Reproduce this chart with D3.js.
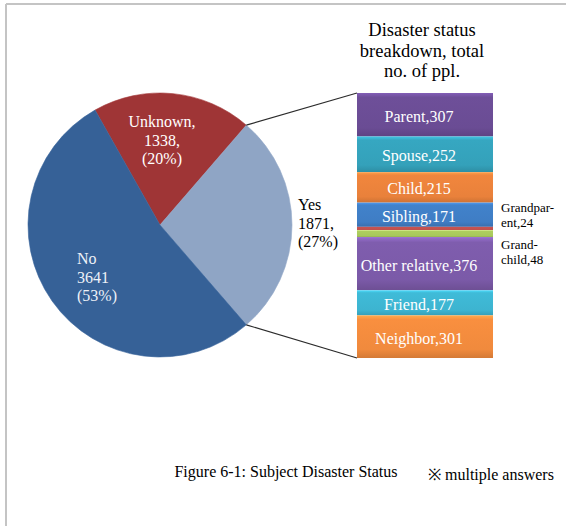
<!DOCTYPE html>
<html>
<head>
<meta charset="utf-8">
<script src="https://cdn.jsdelivr.net/npm/d3@7"></script>
<style>
  html, body { margin: 0; padding: 0; background: #ffffff; }
  svg { display: block; }
  text { font-family: "Liberation Serif", "DejaVu Serif", serif; }
</style>
</head>
<body>
<svg id="chart" width="566" height="526"></svg>
<script>
// Pie: disaster status of subjects
const pieLabels = ["Unknown", "Yes", "No"];
const pieValues = [1338, 1871, 3641];
const piePercents = ["20%", "27%", "53%"];
const pieColors = ["#b43c3d", "#a2bbdf", "#3d6eab"];

// Bar: breakdown of the "Yes" slice (multiple answers)
const barLabels = ["Parent", "Spouse", "Child", "Sibling", "Grandparent", "Grandchild", "Other relative", "Friend", "Neighbor"];
const barValues = [307, 252, 215, 171, 24, 48, 376, 177, 301];
const barColors = ["#6a4c94", "#34a1ba", "#e9813b", "#3f7dc4", "#c0504d", "#a8c85c", "#7b5aa8", "#3db4d0", "#f08a3d"];

const titleLines = ["Disaster status", "breakdown, total", "no. of ppl."];
const caption = "Figure 6-1: Subject Disaster Status";
const note = "※ multiple answers";

const svg = d3.select("#chart");
const defs = svg.append("defs");

// frame lines (top and left)
svg.append("line").attr("x1", 6).attr("y1", 4).attr("x2", 566).attr("y2", 4)
  .attr("stroke", "#c4c4c4").attr("stroke-width", 2);
svg.append("line").attr("x1", 6).attr("y1", 4).attr("x2", 6).attr("y2", 526)
  .attr("stroke", "#c4c4c4").attr("stroke-width", 2);

// ---- pie ----
const cx = 160, cy = 225, R = 132;
const total = d3.sum(pieValues);
// rotate so that the "Yes" slice is centred at 3 o'clock
const yesMid = (pieValues[0] + pieValues[1] / 2) / total * 2 * Math.PI;
const start = Math.PI / 2 - yesMid;
const pie = d3.pie().sort(null).startAngle(start).endAngle(start + 2 * Math.PI);
const arcs = pie(pieValues);
const arc = d3.arc().innerRadius(0).outerRadius(R);

pieColors.forEach((c, i) => {
  const g = defs.append("radialGradient").attr("id", "pg" + i)
    .attr("gradientUnits", "userSpaceOnUse")
    .attr("cx", cx).attr("cy", cy).attr("r", R);
  const base = d3.color(c);
  g.append("stop").attr("offset", "0").attr("stop-color", base.darker(0.05));
  g.append("stop").attr("offset", "0.82").attr("stop-color", base.brighter(0.15));
  g.append("stop").attr("offset", "0.94").attr("stop-color", base);
  g.append("stop").attr("offset", "1").attr("stop-color", base.darker(0.35));
});

const pg = svg.append("g").attr("transform", `translate(${cx},${cy})`);
pg.selectAll("path").data(arcs).join("path")
  .attr("d", arc)
  .attr("fill", (d, i) => `url(#pg${i})`)
  .attr("stroke", (d, i) => d3.color(pieColors[i]).darker(0.3))
  .attr("stroke-width", 0.6);

// ---- stacked bar ----
const barX0 = 357, barX1 = 493;
const y = d3.scaleLinear().domain([0, d3.sum(barValues)]).range([93, 358]);
const cum = d3.cumsum(barValues);
const bands = barValues.map((v, i) => ({
  label: barLabels[i], value: v, color: barColors[i],
  y0: y(cum[i] - v), y1: y(cum[i])
}));

barColors.forEach((c, i) => {
  const g = defs.append("linearGradient").attr("id", "bg" + i)
    .attr("x1", 0).attr("y1", 0).attr("x2", 0).attr("y2", 1);
  const base = d3.color(c);
  g.append("stop").attr("offset", "0").attr("stop-color", base.brighter(0.6));
  g.append("stop").attr("offset", "0.1").attr("stop-color", base.brighter(0.1));
  g.append("stop").attr("offset", "0.8").attr("stop-color", base);
  g.append("stop").attr("offset", "1").attr("stop-color", base.darker(0.35));
});

const bg = svg.append("g");
bg.selectAll("rect").data(bands).join("rect")
  .attr("x", barX0).attr("width", barX1 - barX0)
  .attr("y", d => d.y0).attr("height", d => d.y1 - d.y0)
  .attr("fill", (d, i) => `url(#bg${i})`);

// labels inside the larger bands
bg.selectAll("text").data(bands.filter(d => d.value > 100)).join("text")
  .attr("x", 419)
  .attr("y", d => (d.y0 + d.y1) / 2 + 7)
  .attr("text-anchor", "middle")
  .attr("font-size", 16)
  .attr("fill", "#ffffff")
  .text(d => `${d.label},${d.value}`);

// side labels for the thin bands
const sideLabels = [
  { lines: ["Grandpar-", "ent,24"], y: 212 },
  { lines: ["Grand-", "child,48"], y: 249 }
];
sideLabels.forEach(s => {
  const t = svg.append("text").attr("x", 501).attr("y", s.y)
    .attr("font-size", 13).attr("fill", "#000");
  s.lines.forEach((l, k) => t.append("tspan").attr("x", 501).attr("dy", k ? 15 : 0).text(l));
});

// connector lines from the "Yes" slice to the bar
const yes = arcs[1];
const pA = [cx + R * Math.sin(yes.startAngle), cy - R * Math.cos(yes.startAngle)];
const pB = [cx + R * Math.sin(yes.endAngle), cy - R * Math.cos(yes.endAngle)];
svg.append("line").attr("x1", pA[0]).attr("y1", pA[1]).attr("x2", barX0).attr("y2", y.range()[0])
  .attr("stroke", "#2b2b2b").attr("stroke-width", 1.1);
svg.append("line").attr("x1", pB[0]).attr("y1", pB[1]).attr("x2", barX0).attr("y2", y.range()[1])
  .attr("stroke", "#2b2b2b").attr("stroke-width", 1.1);

// pie labels
function multi(x, y0, lines, anchor, color) {
  const t = svg.append("text").attr("x", x).attr("y", y0)
    .attr("font-size", 16).attr("fill", color).attr("text-anchor", anchor);
  lines.forEach((l, k) => t.append("tspan").attr("x", x).attr("dy", k ? 18.5 : 0).text(l));
}
multi(162, 127, [`${pieLabels[0]},`, `${pieValues[0]},`, `(${piePercents[0]})`], "middle", "#ffffff");
multi(298, 210, [pieLabels[1], `${pieValues[1]},`, `(${piePercents[1]})`], "start", "#000000");
multi(77, 264, [pieLabels[2], `${pieValues[2]}`, `(${piePercents[2]})`], "start", "#eef2f8");

// bar title
const tt = svg.append("text").attr("x", 422).attr("y", 36)
  .attr("font-size", 18.5).attr("text-anchor", "middle").attr("fill", "#000");
titleLines.forEach((l, k) => tt.append("tspan").attr("x", 422).attr("dy", k ? 20.7 : 0).text(l));

// caption and note
svg.append("text").attr("x", 286).attr("y", 477).attr("font-size", 16)
  .attr("text-anchor", "middle").text(caption);
svg.append("text").attr("x", 428).attr("y", 480).attr("font-size", 16)
  .attr("text-anchor", "start").text(note);
</script>
</body>
</html>
